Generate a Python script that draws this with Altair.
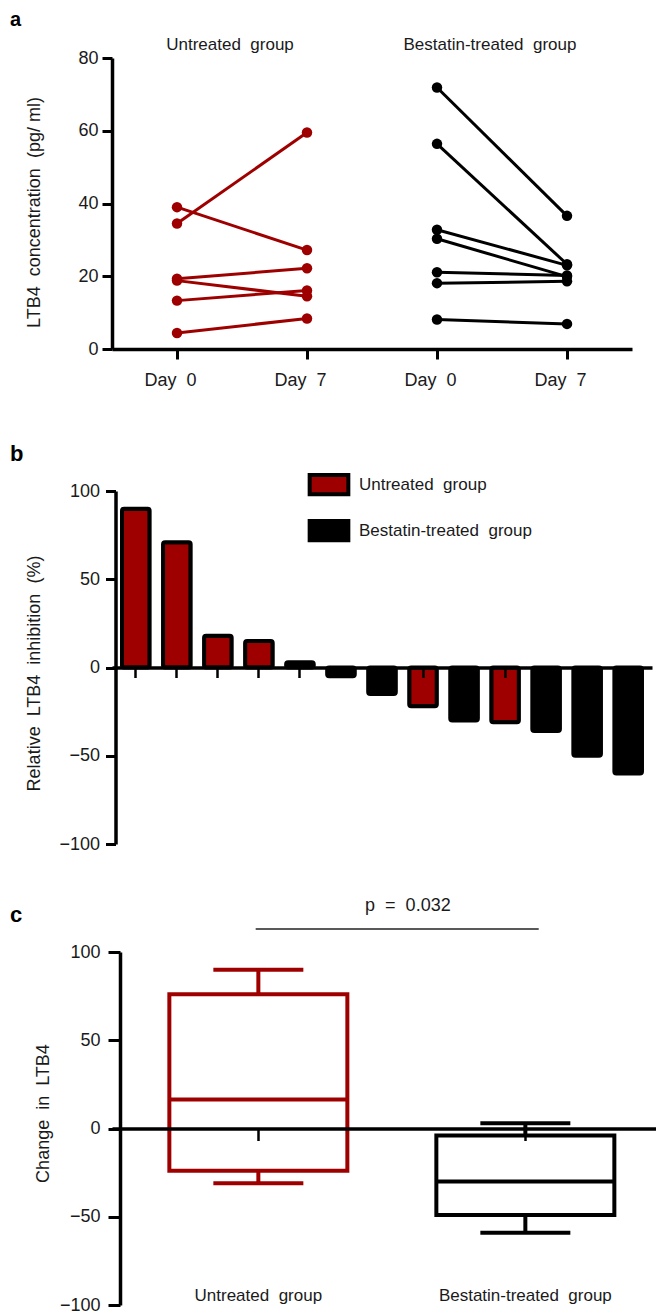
import altair as alt
import pandas as pd

S2 = " \u00a0"  # a visible double space (SVG collapses plain runs of spaces)

# ---------------- values ----------------
groups = ["Untreated group", "Bestatin-treated group"]

# panel a : LTB4 concentration (pg/ml), paired Day 0 -> Day 7
untreated_day0 = [34.5, 39.0, 19.3, 18.8, 13.3, 4.4]
untreated_day7 = [59.5, 27.2, 22.2, 14.5, 16.1, 8.4]
bestatin_day0 = [71.9, 56.4, 32.8, 30.3, 21.1, 18.1, 8.1]
bestatin_day7 = [36.6, 23.3, 23.0, 19.9, 20.2, 18.6, 6.9]
day_labels = ["Day" + S2 + "0", "Day" + S2 + "7"]
group_titles = ["Untreated" + S2 + "group", "Bestatin-treated" + S2 + "group"]

# panel b : relative LTB4 inhibition (%) per patient (waterfall)
bar_values = [90, 71, 18, 15, 3, -5, -15, -22, -30, -31, -36, -50, -60]
bar_groups = ["Untreated group", "Untreated group", "Untreated group", "Untreated group",
              "Bestatin-treated group", "Bestatin-treated group", "Bestatin-treated group",
              "Untreated group", "Bestatin-treated group", "Untreated group",
              "Bestatin-treated group", "Bestatin-treated group", "Bestatin-treated group"]
legend_labels = ["Untreated" + S2 + "group", "Bestatin-treated" + S2 + "group"]

# panel c : change in LTB4 (box and whiskers)
box_labels = ["Untreated" + S2 + "group", "Bestatin-treated" + S2 + "group"]
box_min = [-31, -59]
box_q1 = [-24, -49]
box_median = [16.5, -30]
box_q3 = [76, -4]
box_max = [90, 3]
p_label = "p" + S2 + "=" + S2 + "0.032"
p_bracket = [0.99, 2.05]   # x extent of the significance bar (group units)
p_bracket_y = 113
p_text_x = 1.56
p_text_y = 123.5

# ---------------- styling ----------------
RED = "#9e0000"
TXT = "#1a1a1a"
FONT = "Liberation Sans, Arial, sans-serif"

# ---------------- panel a ----------------
rows = []
for i, (d0, d7) in enumerate(zip(untreated_day0, untreated_day7)):
    rows.append(dict(pid=f"U{i}", group=groups[0], slot=1, value=d0))
    rows.append(dict(pid=f"U{i}", group=groups[0], slot=2, value=d7))
for i, (d0, d7) in enumerate(zip(bestatin_day0, bestatin_day7)):
    rows.append(dict(pid=f"B{i}", group=groups[1], slot=3, value=d0))
    rows.append(dict(pid=f"B{i}", group=groups[1], slot=4, value=d7))
df_a = pd.DataFrame(rows)

color_scale = alt.Scale(domain=groups, range=[RED, "black"])

xa = alt.X("slot:Q", scale=alt.Scale(domain=[0.5, 4.5], nice=False, zero=False),
           axis=alt.Axis(values=[1, 2, 3, 4],
                         labelExpr=f"datum.value % 2 == 1 ? '{day_labels[0]}' : '{day_labels[1]}'",
                         title=" ", titleFontSize=9, titlePadding=1,
                         grid=False, domainColor="black", domainWidth=3.5,
                         tickColor="black", tickWidth=3, tickSize=10, labelPadding=12,
                         labelFontSize=18, labelOffset=-7, labelFont=FONT, labelColor=TXT))
ya = alt.Y("value:Q", scale=alt.Scale(domain=[0, 80], nice=False),
           axis=alt.Axis(values=[0, 20, 40, 60, 80],
                         title="LTB4" + S2 + "concentration" + S2 + "(pg/ ml)",
                         grid=False, domainColor="black", domainWidth=3.5,
                         tickColor="black", tickWidth=3, tickSize=10, labelPadding=4,
                         labelFontSize=18, labelFont=FONT, labelColor=TXT,
                         titleFont=FONT, titleFontSize=18, titleFontWeight="normal",
                         titleColor=TXT, titleX=-78, titleY=154, titleAngle=270,
                         titleAlign="center", titleBaseline="middle"))

base_a = alt.Chart(df_a).encode(
    x=xa, y=ya,
    color=alt.Color("group:N", scale=color_scale, legend=None),
    detail="pid:N")
lines_a = base_a.mark_line(strokeWidth=3)
points_a = base_a.mark_circle(size=110, opacity=1)

df_titles = pd.DataFrame({"label": group_titles, "slot": [1.5, 3.5], "value": [80, 80]})
titles_a = alt.Chart(df_titles).mark_text(
    fontSize=17, font=FONT, color=TXT, baseline="alphabetic", dy=-8, dx=-12
).encode(x="slot:Q", y="value:Q", text="label:N")

letter_a = alt.Chart(pd.DataFrame({"t": ["a"]})).mark_text(
    fontSize=20, fontWeight="bold", font=FONT, align="left", baseline="alphabetic", color="black"
).encode(text="t:N", x=alt.value(-102), y=alt.value(-32))

panel_a = alt.layer(lines_a, points_a, titles_a, letter_a).properties(width=520, height=291)

# ---------------- panel b ----------------
df_b = pd.DataFrame({"idx": list(range(1, len(bar_values) + 1)),
                     "value": bar_values, "group": bar_groups})

bars_b = alt.Chart(df_b).mark_bar(stroke="black", strokeWidth=4, cornerRadius=2).encode(
    x=alt.X("idx:O", scale=alt.Scale(paddingInner=0.327, paddingOuter=0.244),
            axis=alt.Axis(labels=False, title=None, offset=-176.5, zindex=1,
                          domainColor="black", domainWidth=3.5, tickColor="black",
                          tickWidth=2.5, tickSize=10)),
    y=alt.Y("value:Q", scale=alt.Scale(domain=[-100, 100], nice=False),
            axis=alt.Axis(values=[-100, -50, 0, 50, 100],
                          title="Relative" + S2 + "LTB4" + S2 + "inhibition" + S2 + "(%)",
                          grid=False, offset=-3.5, domainColor="black", domainWidth=3.5,
                          tickColor="black", tickWidth=3, tickSize=10, labelPadding=6,
                          labelFontSize=18, labelFont=FONT, labelColor=TXT,
                          titleFont=FONT, titleFontSize=18, titleFontWeight="normal",
                          titleColor=TXT, titleX=-81.5, titleY=182, titleAngle=270,
                          titleAlign="center", titleBaseline="middle")),
    fill=alt.Fill("group:N", scale=alt.Scale(domain=groups, range=[RED, "black"]),
                  legend=alt.Legend(orient="none", legendX=205, legendY=-18.3, title=None,
                                    symbolType="M-2,-1H2V1H-2Z", symbolSize=374,
                                    symbolStrokeColor="black", symbolStrokeWidth=4,
                                    symbolOpacity=1, labelFontSize=17, labelFont=FONT,
                                    labelColor=TXT, labelOffset=18, rowPadding=10,
                                    padding=0, labelLimit=400,
                                    labelExpr=f"datum.label == '{groups[0]}' ? '{legend_labels[0]}' : '{legend_labels[1]}'"))
)

letter_b = alt.Chart(pd.DataFrame({"t": ["b"]})).mark_text(
    fontSize=22, fontWeight="bold", font=FONT, align="left", baseline="alphabetic", color="black"
).encode(text="t:N", x=alt.value(-102), y=alt.value(-30.3))

panel_b = alt.layer(bars_b, letter_b).properties(width=540, height=353)

# ---------------- panel c ----------------
df_c = pd.DataFrame({"pos": [1, 2], "group": groups, "label": box_labels,
                     "mn": box_min, "q1": box_q1, "med": box_median,
                     "q3": box_q3, "mx": box_max})

xc_scale = alt.Scale(domain=[0.4706, 2.4706], nice=False, zero=False)
xc = alt.X("pos:Q", scale=xc_scale,
           axis=alt.Axis(values=[1, 2], labels=False, title=None, offset=-176.5, zindex=1,
                         grid=False, domainColor="black", domainWidth=3.5,
                         tickColor="black", tickWidth=2.5, tickSize=12))
yc_scale = alt.Scale(domain=[-100, 100], nice=False)
yc_axis = alt.Axis(values=[-100, -50, 0, 50, 100], title="Change" + S2 + "in" + S2 + "LTB4",
                   grid=False, offset=-8, domainColor="black", domainWidth=3.5,
                   tickColor="black", tickWidth=3, tickSize=12, labelPadding=8,
                   labelFontSize=18, labelFont=FONT, labelColor=TXT,
                   titleFont=FONT, titleFontSize=18, titleFontWeight="normal",
                   titleColor=TXT, titleX=-77, titleY=161, titleAngle=270,
                   titleAlign="center", titleBaseline="middle")
col_c = alt.Color("group:N", scale=alt.Scale(domain=groups, range=[RED, "black"]), legend=None)
stroke_c = alt.Stroke("group:N", scale=alt.Scale(domain=groups, range=[RED, "black"]), legend=None)

base_c = alt.Chart(df_c)
box = base_c.mark_bar(size=178, fillOpacity=0, strokeWidth=4, strokeOpacity=1).encode(
    x=xc, y=alt.Y("q1:Q", scale=yc_scale, axis=yc_axis), y2="q3:Q", stroke=stroke_c)
median = base_c.mark_tick(orient="horizontal", size=178, thickness=4, opacity=1).encode(
    x="pos:Q", y="med:Q", color=col_c)
whisk_hi = base_c.mark_rule(strokeWidth=4, opacity=1).encode(x="pos:Q", y="q3:Q", y2="mx:Q", color=col_c)
whisk_lo = base_c.mark_rule(strokeWidth=4, opacity=1).encode(x="pos:Q", y="mn:Q", y2="q1:Q", color=col_c)
cap_hi = base_c.mark_tick(orient="horizontal", size=90, thickness=4, opacity=1).encode(
    x="pos:Q", y="mx:Q", color=col_c)
cap_lo = base_c.mark_tick(orient="horizontal", size=90, thickness=4, opacity=1).encode(
    x="pos:Q", y="mn:Q", color=col_c)
cat_labels = base_c.mark_text(fontSize=17, font=FONT, color=TXT, baseline="alphabetic", dy=-4).encode(
    x="pos:Q", y=alt.datum(-100), text="label:N")

df_p = pd.DataFrame({"x1": [p_bracket[0]], "x2": [p_bracket[1]], "y": [p_bracket_y],
                     "tx": [p_text_x], "ty": [p_text_y], "t": [p_label]})
p_rule = alt.Chart(df_p).mark_rule(strokeWidth=1.5, color="#222").encode(
    x="x1:Q", x2="x2:Q", y="y:Q")
p_text = alt.Chart(df_p).mark_text(fontSize=18, font=FONT, color=TXT, baseline="alphabetic").encode(
    x="tx:Q", y="ty:Q", text="t:N")

letter_c = alt.Chart(pd.DataFrame({"t": ["c"]})).mark_text(
    fontSize=22, fontWeight="bold", font=FONT, align="left", baseline="alphabetic", color="black"
).encode(text="t:N", x=alt.value(-102), y=alt.value(-30))

panel_c = alt.layer(box, whisk_hi, whisk_lo, cap_hi, cap_lo, median, cat_labels,
                    p_rule, p_text, letter_c).properties(width=544, height=353)

chart = alt.vconcat(panel_a, panel_b, panel_c, spacing=43).resolve_scale(
    color="independent", fill="independent", stroke="independent"
).resolve_legend(
    color="independent", fill="independent", stroke="independent"
).properties(
    padding={"left": 2, "top": 2, "right": 0, "bottom": 0}
).configure_view(stroke=None).configure_axis(labelFont=FONT, titleFont=FONT)

chart.save("out.html", embed_options={"renderer": "svg", "actions": False})
